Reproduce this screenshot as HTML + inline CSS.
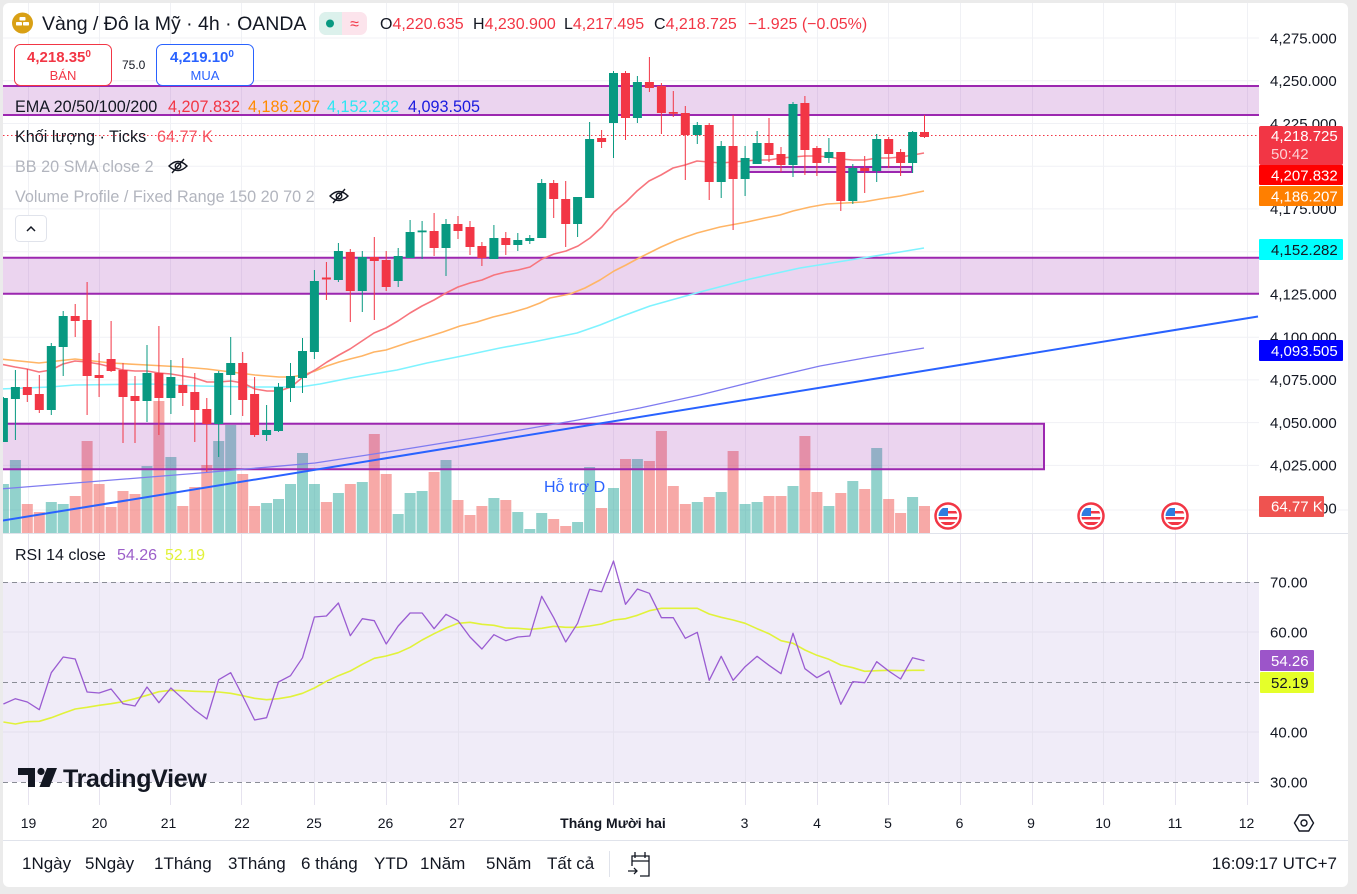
<!DOCTYPE html>
<html><head><meta charset="utf-8"><style>
html,body{margin:0;padding:0;background:#ebebeb;}
svg{display:block;font-family:"Liberation Sans","DejaVu Sans",sans-serif;}
</style></head><body>
<svg width="1357" height="894" viewBox="0 0 1357 894" xmlns="http://www.w3.org/2000/svg">
<defs>
<clipPath id="cp"><rect x="3" y="3" width="1256" height="530"/></clipPath>
<clipPath id="cr"><rect x="3" y="534" width="1256" height="271"/></clipPath>
<clipPath id="fl"><circle r="9.5"/></clipPath>
</defs>
<rect x="0" y="0" width="1357" height="894" fill="#ebebeb"/>
<rect x="3" y="3" width="1345" height="884" rx="6" fill="#ffffff"/>

<!-- grid -->
<g stroke="#f0f1f5" stroke-width="1">
<path d="M3 38H1259M3 80.7H1259M3 123.5H1259M3 166.2H1259M3 208.9H1259M3 251.7H1259M3 294.4H1259M3 337.2H1259M3 379.9H1259M3 422.6H1259M3 465.4H1259M3 510H1348"/>
<path d="M28.5 3V805M99.5 3V805M170.5 3V805M241.5 3V805M314.5 3V805M386.5 3V805M458.5 3V805M613.5 3V805M745.5 3V805M817.5 3V805M888.5 3V805M960.5 3V805M1032.5 3V805M1103.5 3V805M1175.5 3V805M1247.5 3V805"/>
</g>
<path d="M3 533.5H1348" stroke="#e0e3eb"/>
<path d="M3 840.5H1348" stroke="#e0e3eb"/>

<g clip-path="url(#cp)">
<!-- volume -->
<g fill="rgba(38,166,154,0.5)">
<rect x="-2.1" y="484" width="11" height="49"/><rect x="9.9" y="460" width="11" height="73"/><rect x="45.8" y="502" width="11" height="31"/><rect x="57.7" y="504" width="11" height="29"/><rect x="141.5" y="466" width="11" height="67"/><rect x="165.4" y="457" width="11" height="76"/><rect x="213.2" y="441" width="11" height="92"/><rect x="225.2" y="425" width="11" height="108"/><rect x="261.1" y="503" width="11" height="30"/><rect x="273" y="499" width="11" height="34"/><rect x="285" y="484" width="11" height="49"/><rect x="297" y="453" width="11" height="80"/><rect x="308.9" y="484" width="11" height="49"/><rect x="332.9" y="493" width="11" height="40"/><rect x="356.8" y="482" width="11" height="51"/><rect x="392.7" y="514" width="11" height="19"/><rect x="404.6" y="493" width="11" height="40"/><rect x="416.6" y="491" width="11" height="42"/><rect x="440.5" y="460" width="11" height="73"/><rect x="488.4" y="498" width="11" height="35"/><rect x="512.3" y="512" width="11" height="21"/><rect x="524.3" y="529" width="11" height="4"/><rect x="536.2" y="513" width="11" height="20"/><rect x="572.1" y="522" width="11" height="11"/><rect x="584.1" y="467" width="11" height="66"/><rect x="608" y="488" width="11" height="45"/><rect x="631.9" y="459" width="11" height="74"/><rect x="691.8" y="502" width="11" height="31"/><rect x="715.7" y="492" width="11" height="41"/><rect x="739.6" y="504" width="11" height="29"/><rect x="751.6" y="502" width="11" height="31"/><rect x="787.5" y="486" width="11" height="47"/><rect x="823.4" y="506" width="11" height="27"/><rect x="847.3" y="481" width="11" height="52"/><rect x="871.2" y="448" width="11" height="85"/><rect x="907.1" y="497" width="11" height="36"/>
</g>
<g fill="rgba(239,83,80,0.5)">
<rect x="21.8" y="504" width="11" height="29"/><rect x="33.8" y="512" width="11" height="21"/><rect x="69.7" y="496" width="11" height="37"/><rect x="81.6" y="441" width="11" height="92"/><rect x="93.6" y="484" width="11" height="49"/><rect x="105.6" y="507" width="11" height="26"/><rect x="117.5" y="491" width="11" height="42"/><rect x="129.5" y="494" width="11" height="39"/><rect x="153.4" y="401" width="11" height="132"/><rect x="177.3" y="506" width="11" height="27"/><rect x="189.3" y="487" width="11" height="46"/><rect x="201.3" y="465" width="11" height="68"/><rect x="237.2" y="474" width="11" height="59"/><rect x="249.1" y="506" width="11" height="27"/><rect x="320.9" y="502" width="11" height="31"/><rect x="344.8" y="484" width="11" height="49"/><rect x="368.8" y="434" width="11" height="99"/><rect x="380.7" y="474" width="11" height="59"/><rect x="428.6" y="472" width="11" height="61"/><rect x="452.5" y="500" width="11" height="33"/><rect x="464.5" y="515" width="11" height="18"/><rect x="476.4" y="506" width="11" height="27"/><rect x="500.3" y="500" width="11" height="33"/><rect x="548.2" y="519" width="11" height="14"/><rect x="560.2" y="526" width="11" height="7"/><rect x="596.1" y="508" width="11" height="25"/><rect x="620" y="459" width="11" height="74"/><rect x="643.9" y="461" width="11" height="72"/><rect x="655.9" y="431" width="11" height="102"/><rect x="667.8" y="486" width="11" height="47"/><rect x="679.8" y="504" width="11" height="29"/><rect x="703.7" y="497" width="11" height="36"/><rect x="727.6" y="451" width="11" height="82"/><rect x="763.5" y="496" width="11" height="37"/><rect x="775.5" y="496" width="11" height="37"/><rect x="799.4" y="436" width="11" height="97"/><rect x="811.4" y="492" width="11" height="41"/><rect x="835.3" y="493" width="11" height="40"/><rect x="859.2" y="489" width="11" height="44"/><rect x="883.2" y="499" width="11" height="34"/><rect x="895.1" y="513" width="11" height="20"/><rect x="919" y="506" width="11" height="27"/>
</g>

<!-- boxes -->
<g fill="rgba(156,39,176,0.2)">
<rect x="0" y="86" width="1259" height="29"/>
<rect x="0" y="257.7" width="1259" height="36"/>
<rect x="0" y="423.7" width="1044" height="45.6"/>
<rect x="748" y="167" width="164" height="5"/>
</g>
<g stroke="#9c27b0" stroke-width="2" fill="none">
<path d="M0 86H1259M0 115H1259M0 257.7H1259M0 293.7H1259"/>
<path d="M0 423.7H1044V469.3H0"/>
<rect x="748" y="167" width="164" height="5"/>
</g>

<!-- dotted price line -->
<path d="M3 135.5H1259" stroke="#f23645" stroke-width="1" stroke-dasharray="1.5 2.5"/>

<!-- EMAs -->
<g fill="none" stroke-linejoin="round">
<polyline stroke="#7f7bf0" stroke-width="1.3" points="0,489 100,481 200,473 315,463 400,450 480,437 578,420 640,408 700,395 760,380 820,366 870,357 924,348"/>
<polyline stroke="#7ff3ff" stroke-width="1.6" points="0,389 50,387 75,385 150,384 200,386 250,387 300,387 320,384 350,378 373,374 397,370 427,363 467,355 500,348 533,342 577,333 600,325 620,317 650,306 700,292 750,279 800,268 850,260 900,252 924,248"/>
<polyline stroke="#ffb566" stroke-width="1.6" points="0,359 39,363 75,359 111,363 147,365 183,367 207,369 231,372 255,375 279,377 291,377 303,375 315,371 327,366 339,362 350,359 362,356 374,352 386,350 398,346 410,342 427,337 443,332 460,326 477,322 493,317 510,313 527,308 540,303 550,298 570,294 585,288 600,280 614,271 626,265 637,259 649,253 661,247 677,240 697,233 720,227 747,222 765,218 780,215 793,211 810,207 827,204 845,203 863,202 880,199 900,196 924,191"/>
<polyline stroke="#f7757d" stroke-width="1.6" points="0,364 15,367 27,369 39,372 51,370 63,364 75,361 87,362 99,364 111,367 123,370 135,371 147,371 159,373 171,374 183,376 195,378 207,382 219,382 231,381 243,383 255,389 267,391 279,391 291,387 303,377 315,370 327,362 339,355 350,349 362,341 374,333 386,328 398,321 410,313 422,306 434,300 446,293 458,287 470,283 482,280 494,275 506,272 518,270 530,267 542,259 554,254 566,251 578,246 590,238 602,227 614,212 626,202 637,191 649,181 661,175 673,168 685,165 697,161 709,162 721,163 733,162 745,161 757,160 769,160 781,158 793,157 805,156 817,156 829,157 841,159 853,160 865,160 877,158 889,158 901,157 913,155 924,153"/>
</g>
<!-- trend line -->
<path d="M0 521L1258 316.5" stroke="#2962ff" stroke-width="2"/>

<!-- candles green -->
<g stroke="#089981" stroke-width="1" fill="none">
<path d="M3.4 397V442M15.4 370V440M51.3 343V415M63.2 311V376M147 345V422M170.9 360V414M218.7 371V457M230.7 337V415M266.6 405V441M278.5 383V432M290.5 363V402M302.5 338V393M314.4 270V359M338.4 243V282M362.3 251V312M398.2 248V287M410.1 220V258M422.1 221V259M446 219V276M493.9 225V259M517.8 233V251M529.8 235V244M541.7 179V238M577.6 197V237M589.6 122V198M613.5 71V158M637.4 76V123M697.3 122V144M721.2 141V198M745.1 146V196M757.1 131V164M793 102V177M828.9 138V163M852.8 164V204M876.7 134V182M912.6 131V173"/>
</g>
<g fill="#089981">
<rect x="-1.1" y="398" width="9" height="44"/><rect x="10.9" y="387" width="9" height="12"/><rect x="46.8" y="346" width="9" height="64"/><rect x="58.7" y="316" width="9" height="31"/><rect x="142.5" y="373" width="9" height="28"/><rect x="166.4" y="377" width="9" height="21"/><rect x="214.2" y="373" width="9" height="51"/><rect x="226.2" y="363" width="9" height="12"/><rect x="262.1" y="430" width="9" height="5"/><rect x="274" y="387" width="9" height="44"/><rect x="286" y="376" width="9" height="12"/><rect x="298" y="351" width="9" height="27"/><rect x="309.9" y="281" width="9" height="71"/><rect x="333.9" y="251" width="9" height="29"/><rect x="357.8" y="257" width="9" height="34"/><rect x="393.7" y="256" width="9" height="25"/><rect x="405.6" y="232" width="9" height="26"/><rect x="417.6" y="230.5" width="9" height="1.8"/><rect x="441.5" y="224" width="9" height="24"/><rect x="489.4" y="238" width="9" height="21"/><rect x="513.3" y="240" width="9" height="5"/><rect x="525.3" y="238" width="9" height="3"/><rect x="537.2" y="183" width="9" height="55"/><rect x="573.1" y="197" width="9" height="27"/><rect x="585.1" y="139" width="9" height="59"/><rect x="609" y="73" width="9" height="50"/><rect x="632.9" y="82" width="9" height="36"/><rect x="692.8" y="125" width="9" height="10"/><rect x="716.7" y="146" width="9" height="36"/><rect x="740.6" y="158" width="9" height="21"/><rect x="752.6" y="143" width="9" height="21"/><rect x="788.5" y="104" width="9" height="61"/><rect x="824.4" y="152" width="9" height="6"/><rect x="848.3" y="168" width="9" height="33"/><rect x="872.2" y="139" width="9" height="32"/><rect x="908.1" y="132" width="9" height="31"/>
</g>
<!-- candles red -->
<g stroke="#f23645" stroke-width="1" fill="none">
<path d="M27.3 369V402M39.3 375V413M75.2 304V337M87.1 282V415M99.1 353V397M111.1 321V372M123 363V443M135 376V443M158.9 326V435M182.8 358V406M194.8 373V442M206.8 398V472M242.7 352V416M254.6 377V437M326.4 262V300M350.3 249V322M374.3 237V320M386.2 251V291M434.1 213V256M458 216V239M470 221V255M481.9 242V266M505.8 232V255M553.7 180V218M565.7 181V247M601.6 130V148M625.5 71V140M649.4 57V92M661.4 83V134M673.3 91V117M685.3 106V180M709.2 123V200M733.1 115V230M769 118V162M781 147V172M804.9 96V175M816.9 146V176M840.8 152V211M864.7 156V193M888.7 137V168M900.6 149V176M924.5 115V138"/>
</g>
<g fill="#f23645">
<rect x="22.8" y="387" width="9" height="8"/><rect x="34.8" y="394" width="9" height="16"/><rect x="70.7" y="316" width="9" height="5"/><rect x="82.6" y="320" width="9" height="56"/><rect x="94.6" y="375" width="9" height="3"/><rect x="106.6" y="359" width="9" height="12"/><rect x="118.5" y="370" width="9" height="27"/><rect x="130.5" y="396" width="9" height="5"/><rect x="154.4" y="373" width="9" height="25"/><rect x="178.3" y="385" width="9" height="8"/><rect x="190.3" y="392" width="9" height="18"/><rect x="202.3" y="409" width="9" height="15"/><rect x="238.2" y="363" width="9" height="37"/><rect x="250.1" y="394" width="9" height="41"/><rect x="321.9" y="277.5" width="9" height="2"/><rect x="345.8" y="252" width="9" height="39"/><rect x="369.8" y="257" width="9" height="4"/><rect x="381.7" y="260" width="9" height="27"/><rect x="429.6" y="231" width="9" height="17"/><rect x="453.5" y="224" width="9" height="7"/><rect x="465.5" y="227" width="9" height="20"/><rect x="477.4" y="246" width="9" height="12"/><rect x="501.3" y="238" width="9" height="7"/><rect x="549.2" y="183" width="9" height="16"/><rect x="561.2" y="199" width="9" height="25"/><rect x="597.1" y="138" width="9" height="4"/><rect x="621" y="73" width="9" height="45"/><rect x="644.9" y="82" width="9" height="6"/><rect x="656.9" y="86" width="9" height="27"/><rect x="668.8" y="112" width="9" height="1.8"/><rect x="680.8" y="113" width="9" height="22"/><rect x="704.7" y="125" width="9" height="57"/><rect x="728.6" y="146" width="9" height="33"/><rect x="764.5" y="143" width="9" height="12"/><rect x="776.5" y="154" width="9" height="11"/><rect x="800.4" y="103" width="9" height="47"/><rect x="812.4" y="148" width="9" height="15"/><rect x="836.3" y="152" width="9" height="49"/><rect x="860.2" y="168" width="9" height="3"/><rect x="884.2" y="139" width="9" height="15"/><rect x="896.1" y="152" width="9" height="11"/><rect x="920" y="132" width="9" height="5"/>
</g>
</g>

<!-- support label -->
<text x="544" y="492" font-size="16" fill="#2962ff">Hỗ trợ D</text>

<!-- flags -->
<g transform="translate(948,516)"><circle r="12.5" fill="#fff" stroke="#f23645" stroke-width="2.5"/><g clip-path="url(#fl)"><rect x="-10" y="-10" width="20" height="20" fill="#fff"/><rect x="-10" y="-8" width="10" height="8" fill="#2e7de0"/><rect x="0" y="-5" width="10" height="2.5" fill="#f23645"/><rect x="-10" y="1" width="20" height="2.5" fill="#f23645"/><rect x="-10" y="6" width="20" height="3" fill="#f23645"/></g></g>
<g transform="translate(1091,516)"><circle r="12.5" fill="#fff" stroke="#f23645" stroke-width="2.5"/><g clip-path="url(#fl)"><rect x="-10" y="-10" width="20" height="20" fill="#fff"/><rect x="-10" y="-8" width="10" height="8" fill="#2e7de0"/><rect x="0" y="-5" width="10" height="2.5" fill="#f23645"/><rect x="-10" y="1" width="20" height="2.5" fill="#f23645"/><rect x="-10" y="6" width="20" height="3" fill="#f23645"/></g></g>
<g transform="translate(1175,516)"><circle r="12.5" fill="#fff" stroke="#f23645" stroke-width="2.5"/><g clip-path="url(#fl)"><rect x="-10" y="-10" width="20" height="20" fill="#fff"/><rect x="-10" y="-8" width="10" height="8" fill="#2e7de0"/><rect x="0" y="-5" width="10" height="2.5" fill="#f23645"/><rect x="-10" y="1" width="20" height="2.5" fill="#f23645"/><rect x="-10" y="6" width="20" height="3" fill="#f23645"/></g></g>

<!-- RSI pane -->
<g clip-path="url(#cr)">
<rect x="3" y="582" width="1256" height="200" fill="#f0ecf8"/>
<path d="M3 632H1259M3 732H1259" stroke="#e3e0ee"/>
<path d="M28.5 534V805M99.5 534V805M170.5 534V805M241.5 534V805M314.5 534V805M386.5 534V805M458.5 534V805M613.5 534V805M745.5 534V805M817.5 534V805M888.5 534V805M960.5 534V805M1032.5 534V805M1103.5 534V805M1175.5 534V805M1247.5 534V805" stroke="#e6e3ef"/>
<path d="M3 582.5H1259M3 682.5H1259M3 782.5H1259" stroke="#8a8d96" stroke-dasharray="5 4"/>
<polyline fill="none" stroke="#e1f23a" stroke-width="1.6" stroke-linejoin="round" points="3.4,722 15.4,724 27.3,721.7 39.3,721.3 51.3,717.7 63.2,713.3 75.2,709 87.1,707.3 99.1,705.3 111.1,703.7 123,701.7 135,698.7 147,695.3 158.9,691.7 170.9,690.3 182.8,690.7 194.8,691.3 206.8,691.7 218.7,692 230.7,693.3 242.7,695.7 254.6,698.3 266.6,699.7 278.5,698.7 290.5,696.7 302.5,693.3 314.4,688 326.4,681.3 338.4,675.7 350.3,671 362.3,664.3 374.3,658.3 386.2,656 398.2,652.7 410.1,647.3 422.1,640 434.1,633.7 446,628 458,623.3 470,622.3 481.9,624.3 493.9,625.3 505.8,628 517.8,628.3 529.8,629.3 541.7,628.3 553.7,626.3 565.7,627.3 577.6,627.3 589.6,626 601.6,624 613.5,620 625.5,618.7 637.4,615.3 649.4,610.7 661.4,608.3 673.3,608.3 685.3,608.3 697.3,608.3 709.2,614 721.2,617.3 733.1,620 745.1,623.3 757.1,628.7 769,633.7 781,640.7 793,643.3 804.9,650 816.9,655.3 828.9,659.3 840.8,665 852.8,667.7 864.7,671.3 876.7,670.7 888.7,670.3 900.6,670.7 912.6,670.3 924.5,670.3"/>
<polyline fill="none" stroke="#9a5cd2" stroke-width="1.3" stroke-linejoin="round" points="3.4,704 15.4,698.7 27.3,702 39.3,709.7 51.3,672.7 63.2,657 75.2,659 87.1,692 99.1,693 111.1,689 123,703.7 135,706 147,687 158.9,702.7 170.9,688 182.8,698.7 194.8,710 206.8,719 218.7,679.7 230.7,672.7 242.7,696 254.6,720 266.6,717.7 278.5,682 290.5,675.7 302.5,657.7 314.4,617 326.4,616 338.4,603 350.3,635.7 362.3,618.7 374.3,620.7 386.2,644 398.2,626 410.1,613 422.1,613 434.1,628.7 446,614.3 458,620.7 470,637 481.9,649 493.9,634.7 505.8,640.7 517.8,637 529.8,636 541.7,596.3 553.7,617.7 565.7,642 577.6,623.3 589.6,589.3 601.6,591.7 613.5,561 625.5,604.3 637.4,589 649.4,593.3 661.4,617.7 673.3,617.7 685.3,638.3 697.3,632.3 709.2,680.3 721.2,656.3 733.1,680.3 745.1,666.7 757.1,656.3 769,665.3 781,673.7 793,633.3 804.9,668.7 816.9,677.7 828.9,671 840.8,704.3 852.8,681.7 864.7,682.7 876.7,661.7 888.7,671 900.6,679 912.6,657.7 924.5,660.7"/>
</g>
<text x="15" y="560" font-size="16" fill="#131722">RSI 14 close <tspan x="117" fill="#9c5fc9">54.26</tspan><tspan x="165" fill="#e2f23a">52.19</tspan></text>

<!-- TradingView logo -->
<g fill="#131722">
<path d="M18 768H35V787H28V775H18Z"/>
<circle cx="41" cy="771.5" r="3.6"/>
<path d="M47 768H57L49.5 787H39.5Z"/>
</g>
<text x="63" y="787" font-size="25" font-weight="bold" fill="#131722" letter-spacing="-0.3">TradingView</text>

<!-- price axis -->
<g font-size="15" fill="#131722">
<text x="1270" y="43.3">4,275.000</text>
<text x="1270" y="86">4,250.000</text>
<text x="1270" y="128.8">4,225.000</text>
<text x="1270" y="171.5">4,200.000</text>
<text x="1270" y="214.2">4,175.000</text>
<text x="1270" y="257">4,150.000</text>
<text x="1270" y="299.7">4,125.000</text>
<text x="1270" y="342.5">4,100.000</text>
<text x="1270" y="385.2">4,075.000</text>
<text x="1270" y="427.9">4,050.000</text>
<text x="1270" y="470.7">4,025.000</text>
<text x="1270" y="513.4">4,000.000</text>
</g>
<rect x="1259" y="126" width="84" height="39" rx="2" fill="#f23645"/>
<text x="1271" y="141" font-size="15" fill="#fff">4,218.725</text>
<text x="1271" y="159" font-size="15" fill="#fcd0d4">50:42</text>
<rect x="1259" y="165" width="84" height="20" rx="1" fill="#ff0000"/>
<text x="1271" y="180.3" font-size="15" fill="#fff">4,207.832</text>
<rect x="1259" y="186" width="84" height="20" rx="1" fill="#ff7f00"/>
<text x="1271" y="201.3" font-size="15" fill="#fff">4,186.207</text>
<rect x="1259" y="239" width="84" height="21" rx="1" fill="#00ffff"/>
<text x="1271" y="254.8" font-size="15" fill="#131722">4,152.282</text>
<rect x="1259" y="340" width="84" height="21" rx="1" fill="#0000ff"/>
<text x="1271" y="355.8" font-size="15" fill="#fff">4,093.505</text>
<rect x="1259" y="496" width="65" height="21" rx="1" fill="#ef5350"/>
<text x="1271" y="511.5" font-size="15" fill="#fff">64.77 K</text>

<!-- RSI axis -->
<g font-size="15" fill="#131722">
<text x="1270" y="587.3">70.00</text>
<text x="1270" y="637.3">60.00</text>
<text x="1270" y="737.3">40.00</text>
<text x="1270" y="787.3">30.00</text>
</g>
<rect x="1260" y="650" width="54" height="21" rx="1" fill="#9c55c9"/>
<text x="1271" y="665.8" font-size="15" fill="#fff">54.26</text>
<rect x="1260" y="672" width="54" height="21" rx="1" fill="#e5ff2a"/>
<text x="1271" y="687.8" font-size="15" fill="#131722">52.19</text>

<!-- time axis -->
<g font-size="14" fill="#131722" text-anchor="middle">
<text x="28.5" y="828">19</text>
<text x="99.5" y="828">20</text>
<text x="168.5" y="828">21</text>
<text x="242" y="828">22</text>
<text x="314" y="828">25</text>
<text x="385.5" y="828">26</text>
<text x="457" y="828">27</text>
<text x="613" y="828" font-weight="bold">Tháng Mười hai</text>
<text x="744.5" y="828">3</text>
<text x="817" y="828">4</text>
<text x="888" y="828">5</text>
<text x="959.5" y="828">6</text>
<text x="1031" y="828">9</text>
<text x="1103" y="828">10</text>
<text x="1175" y="828">11</text>
<text x="1246.5" y="828">12</text>
</g>
<g transform="translate(1304,823)" fill="none" stroke="#131722" stroke-width="1.4">
<path d="M-9.5 0L-4.7 -8H4.7L9.5 0L4.7 8H-4.7Z"/><circle r="3"/>
</g>

<!-- bottom toolbar -->
<g font-size="17" fill="#131722">
<text x="22" y="869">1Ngày</text>
<text x="85" y="869">5Ngày</text>
<text x="154" y="869">1Tháng</text>
<text x="228" y="869">3Tháng</text>
<text x="301" y="869">6 tháng</text>
<text x="374" y="869">YTD</text>
<text x="420" y="869">1Năm</text>
<text x="486" y="869">5Năm</text>
<text x="547" y="869">Tất cả</text>
<text x="1337" y="869" text-anchor="end">16:09:17 UTC+7</text>
</g>
<path d="M609.5 851V877" stroke="#e0e3eb"/>
<g fill="none" stroke="#131722" stroke-width="1.3">
<path d="M632 866V856H649V876H640"/>
<path d="M632 861H649M635 852V858M645 852V858"/>
<path d="M628 871H637M634 868L637 871L634 874"/>
</g>

<!-- header -->
<circle cx="22.5" cy="23" r="10.5" fill="#d9a015"/>
<g fill="#fff">
<rect x="19.5" y="17" width="6" height="3.5" rx="0.8"/>
<rect x="16" y="22" width="6" height="3.5" rx="0.8"/>
<rect x="23" y="22" width="6" height="3.5" rx="0.8"/>
</g>
<text x="42" y="30" font-size="19.5" fill="#131722">Vàng / Đô la Mỹ · 4h · OANDA</text>
<rect x="319" y="12" width="48" height="23" rx="7" fill="#fce4ec"/>
<path d="M326 12H342V35H326A7 7 0 0 1 319 28V19A7 7 0 0 1 326 12Z" fill="#dcf1ec"/>
<circle cx="330" cy="23.5" r="4" fill="#089981"/>
<text x="354.5" y="29" font-size="16" fill="#f23645" text-anchor="middle">≈</text>
<g font-size="16">
<text x="380" y="29" fill="#131722">O<tspan fill="#f23645">4,220.635</tspan></text>
<text x="473" y="29" fill="#131722">H<tspan fill="#f23645">4,230.900</tspan></text>
<text x="564" y="29" fill="#131722">L<tspan fill="#f23645">4,217.495</tspan></text>
<text x="654" y="29" fill="#131722">C<tspan fill="#f23645">4,218.725</tspan></text>
<text x="748" y="29" fill="#f23645">−1.925 (−0.05%)</text>
</g>

<!-- bid / ask -->
<rect x="14.5" y="44.5" width="97" height="41" rx="6" fill="#fff" stroke="#f23645"/>
<text x="27" y="62" font-size="15" font-weight="bold" fill="#f23645">4,218.35<tspan font-size="10" dy="-5">0</tspan></text>
<text x="63" y="80" font-size="13" fill="#f23645" text-anchor="middle">BÁN</text>
<text x="122" y="69" font-size="12" fill="#131722">75.0</text>
<rect x="156.5" y="44.5" width="97" height="41" rx="6" fill="#fff" stroke="#2962ff"/>
<text x="170" y="62" font-size="15" font-weight="bold" fill="#2962ff">4,219.10<tspan font-size="10" dy="-5">0</tspan></text>
<text x="205" y="80" font-size="13" fill="#2962ff" text-anchor="middle">MUA</text>

<!-- legend -->
<g font-size="16.2">
<text x="15" y="112" fill="#131722">EMA 20/50/100/200</text>
<text x="168" y="112" fill="#f23645">4,207.832</text>
<text x="248" y="112" fill="#ff8a00">4,186.207</text>
<text x="327" y="112" fill="#2ee6f2">4,152.282</text>
<text x="408" y="112" fill="#1a1adf">4,093.505</text>
<text x="15" y="142" fill="#131722">Khối lượng · Ticks</text>
<text x="157" y="142" fill="#f7525f">64.77 K</text>
<text x="15" y="172" fill="#b2b5be">BB 20 SMA close 2</text>
<text x="15" y="202" fill="#b2b5be">Volume Profile / Fixed Range 150 20 70 2</text>
</g>
<g fill="none" stroke="#131722" stroke-width="1.4">
<g transform="translate(178,166)"><path d="M-9 0Q0 -9 9 0Q0 9 -9 0Z"/><circle r="2.8"/><path d="M-6 7L6 -7"/></g>
<g transform="translate(339,196)"><path d="M-9 0Q0 -9 9 0Q0 9 -9 0Z"/><circle r="2.8"/><path d="M-6 7L6 -7"/></g>
</g>
<rect x="15.5" y="215.5" width="31" height="26" rx="4" fill="#fff" stroke="#e0e3eb"/>
<path d="M27 231L31 227L35 231" fill="none" stroke="#131722" stroke-width="1.5"/>
</svg>
</body></html>
